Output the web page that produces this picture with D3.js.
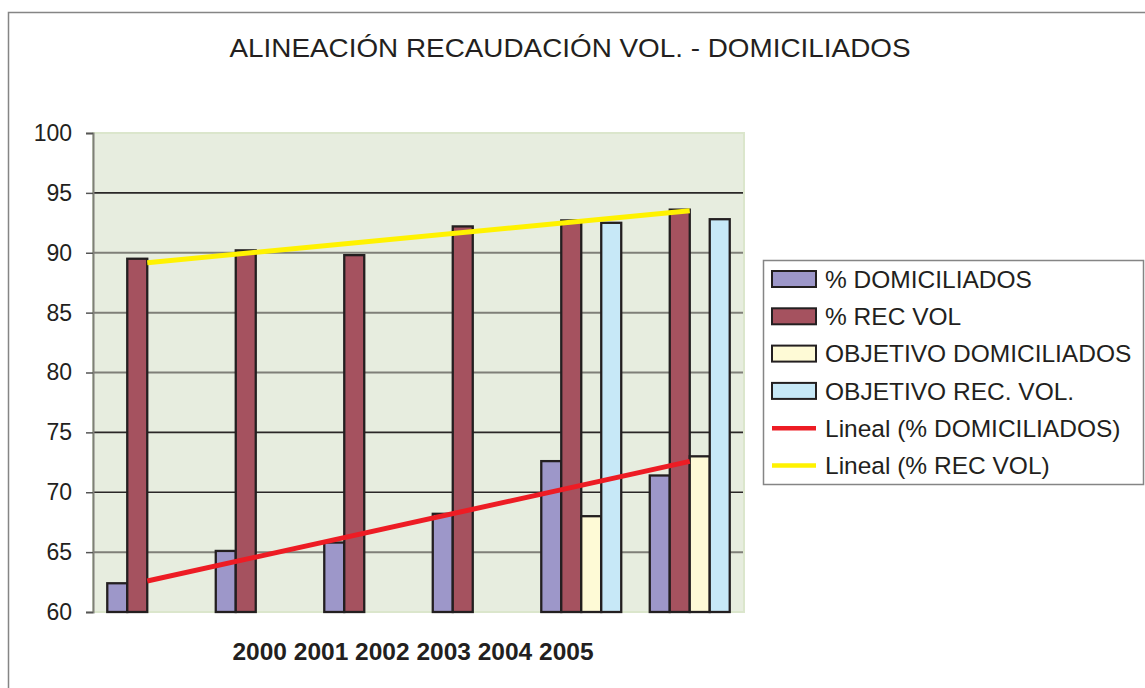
<!DOCTYPE html>
<html><head><meta charset="utf-8">
<script src="https://cdn.jsdelivr.net/npm/d3@7"></script>
<style>
html,body{margin:0;padding:0;background:#fff;}
svg{display:block;font-family:"Liberation Sans",Arial,Helvetica,sans-serif;}
</style></head>
<body>
<svg id="chart" width="1145" height="688"></svg>
<script>
// ---- data ----
const categories = ["2000","2001","2002","2003","2004","2005"];
const seriesNames = ["% DOMICILIADOS","% REC VOL","OBJETIVO DOMICILIADOS","OBJETIVO REC. VOL."];
const domiciliados = [62.4, 65.1, 65.8, 68.2, 72.6, 71.4];
const recVol = [89.5, 90.2, 89.8, 92.2, 92.7, 93.6];
const objetivoDomiciliados = [null, null, null, null, 68.0, 73.0];
const objetivoRecVol = [null, null, null, null, 92.5, 92.8];
const yTicks = [60, 65, 70, 75, 80, 85, 90, 95, 100];
const trendNames = ["Lineal (% DOMICILIADOS)", "Lineal (% REC VOL)"];
const titleText = "ALINEACIÓN RECAUDACIÓN VOL. - DOMICILIADOS";

// ---- layout / style ----
const W = 1145, H = 688;
const plot = {x0: 93, x1: 744, y0: 133, y1: 612};
const barColors = ["#9d97c9", "#a5525f", "#fefad6", "#c7e8f7"];
const trendColors = ["#ed1c24", "#fff200"];
const ink = "#231f20";

const svg = d3.select("#chart");

// outer frame
svg.append("rect").attr("x", 8.5).attr("y", 12.5).attr("width", W + 20).attr("height", H + 20)
  .attr("fill", "#fff").attr("stroke", "#858585").attr("stroke-width", 1.5);

// title
svg.append("text").attr("x", 570).attr("y", 57).attr("text-anchor", "middle")
  .attr("font-size", 26.5).attr("fill", ink)
  .attr("textLength", 681).attr("lengthAdjust", "spacingAndGlyphs")
  .text(titleText);

// scales
const y = d3.scaleLinear().domain([60, 100]).range([plot.y1, plot.y0]);
const p = 0.263;
const x = d3.scaleBand().domain(categories).range([plot.x0, plot.x1]).paddingInner(p).paddingOuter(p / 2);
const xs = d3.scaleBand().domain(d3.range(seriesNames.length)).range([0, x.bandwidth()]);

// plot background
svg.append("rect").attr("x", plot.x0).attr("y", plot.y0)
  .attr("width", plot.x1 - plot.x0).attr("height", plot.y1 - plot.y0)
  .attr("fill", "#e7eddf").attr("stroke", "#dbe6cc").attr("stroke-width", 2);

// gridlines
const darkGrid = new Set([95, 75, 70]);
svg.append("g").selectAll("line").data(yTicks.filter(t => t > 60 && t < 100)).join("line")
  .attr("x1", plot.x0).attr("x2", plot.x1 - 1)
  .attr("y1", d => y(d)).attr("y2", d => y(d))
  .attr("stroke", d => darkGrid.has(d) ? "#2a2727" : "#7f7f78")
  .attr("stroke-width", d => darkGrid.has(d) ? 1.6 : 2);

// y axis
const yAxis = svg.append("g").attr("transform", `translate(${plot.x0},0)`)
  .call(d3.axisLeft(y).tickValues(yTicks).tickSize(7).tickPadding(14).tickFormat(d3.format("d")));
yAxis.select(".domain").attr("stroke", "#7f7f78").attr("stroke-width", 2);
yAxis.selectAll(".tick line").attr("stroke", "#555").attr("stroke-width", 1.5);
yAxis.selectAll(".tick text").attr("font-size", 23).attr("fill", ink)
  .attr("font-family", "'Liberation Sans', Arial, sans-serif");

// bars
const allSeries = [domiciliados, recVol, objetivoDomiciliados, objetivoRecVol];
const barData = [];
allSeries.forEach((vals, si) => vals.forEach((v, ci) => {
  if (v != null) barData.push({si, cat: categories[ci], v});
}));
svg.append("g").selectAll("rect").data(barData).join("rect")
  .attr("x", d => x(d.cat) + xs(d.si))
  .attr("y", d => y(d.v))
  .attr("width", xs.bandwidth())
  .attr("height", d => y(60) - y(d.v))
  .attr("fill", d => barColors[d.si])
  .attr("stroke", ink).attr("stroke-width", 2.3);

// linear trendlines (least squares)
function linreg(vals) {
  const n = vals.length, xsArr = d3.range(n);
  const mx = d3.mean(xsArr), my = d3.mean(vals);
  const slope = d3.sum(xsArr, i => (i - mx) * (vals[i] - my)) / d3.sum(xsArr, i => (i - mx) ** 2);
  return i => my + slope * (i - mx);
}
[domiciliados, recVol].forEach((vals, k) => {
  const f = linreg(vals);
  const n = vals.length;
  svg.append("line")
    .attr("x1", x(categories[0]) + x.bandwidth() / 2).attr("y1", y(f(0)))
    .attr("x2", x(categories[n - 1]) + x.bandwidth() / 2).attr("y2", y(f(n - 1)))
    .attr("stroke", trendColors[k]).attr("stroke-width", 5);
});

// x category label
svg.append("text").attr("x", 413).attr("y", 660).attr("text-anchor", "middle")
  .attr("font-size", 24.5).attr("font-weight", "bold").attr("fill", ink)
  .text(categories.join(" "));

// legend
const lg = svg.append("g");
lg.append("rect").attr("x", 763.5).attr("y", 260.5).attr("width", 380).attr("height", 224)
  .attr("fill", "#fff").attr("stroke", "#858585").attr("stroke-width", 1.5);
const rowY = i => 279 + i * 37.3;
seriesNames.forEach((name, i) => {
  lg.append("rect").attr("x", 772).attr("y", rowY(i) - 8).attr("width", 44).attr("height", 16)
    .attr("fill", barColors[i]).attr("stroke", ink).attr("stroke-width", 2);
  lg.append("text").attr("x", 825).attr("y", rowY(i)).attr("dy", "0.36em")
    .attr("font-size", 24.5).attr("fill", ink).text(name);
});
trendNames.forEach((name, k) => {
  const i = seriesNames.length + k;
  lg.append("line").attr("x1", 772).attr("x2", 816).attr("y1", rowY(i)).attr("y2", rowY(i))
    .attr("stroke", trendColors[k]).attr("stroke-width", 4.5);
  lg.append("text").attr("x", 825).attr("y", rowY(i)).attr("dy", "0.36em")
    .attr("font-size", 24.5).attr("fill", ink).text(name);
});
</script>
</body></html>
